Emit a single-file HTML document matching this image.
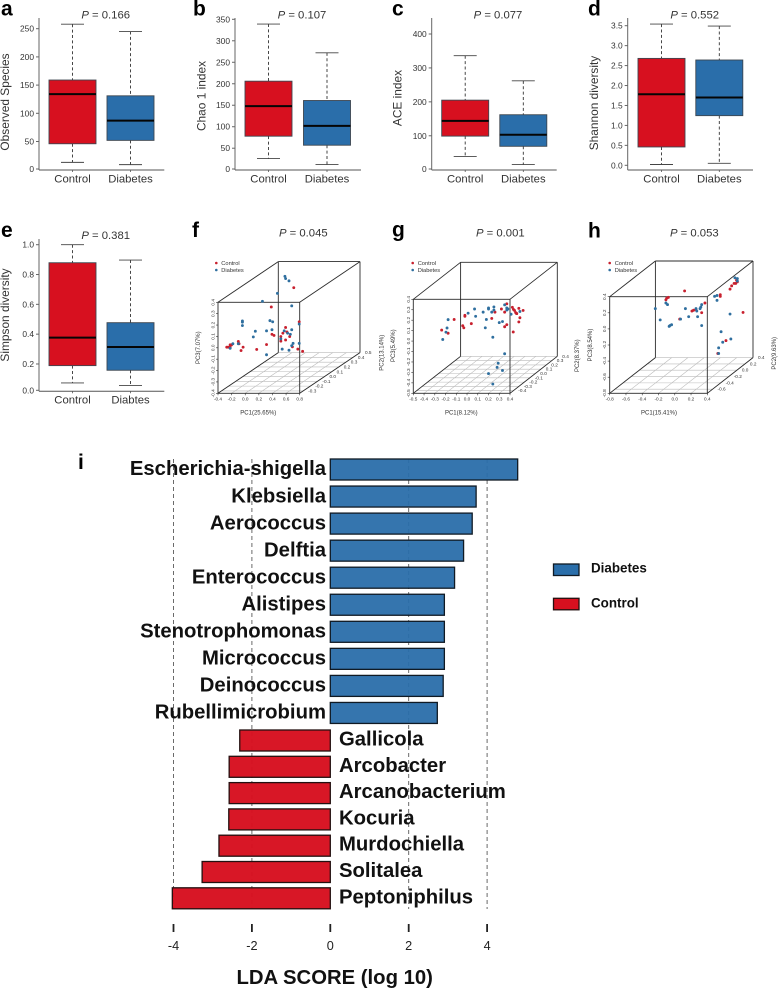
<!DOCTYPE html>
<html lang="en">
<head>
<meta charset="utf-8">
<title>Diversity and LDA figure</title>
<style>
html,body{margin:0;padding:0;background:#fff;}
svg{display:block;font-family:"Liberation Sans",sans-serif;filter:blur(0.3px);}
</style>
</head>
<body>
<svg id="figure" xmlns="http://www.w3.org/2000/svg" width="778" height="989" viewBox="0 0 778 989"></svg>
<script>
// ---------- box plot data: [whisker low, Q1, median, Q3, whisker high] ----------
const groupNames = ['Control', 'Diabetes'];
const groupNamesE = ['Control', 'Diabtes'];
const speciesControl = [13, 46, 134, 159, 258];
const speciesDiabetes = [9, 52, 87, 131, 245];
const speciesTicks = [0, 50, 100, 150, 200, 250];
const chaoControl = [26, 78, 148, 206, 339];
const chaoDiabetes = [12, 57, 102, 161, 272];
const chaoTicks = [0, 50, 100, 150, 200, 250, 300, 350];
const aceControl = [39, 99, 144, 205, 336];
const aceDiabetes = [15, 69, 103, 162, 262];
const aceTicks = [0, 100, 200, 300, 400];
const shannonControl = [0.02, 0.46, 1.78, 2.68, 3.54];
const shannonDiabetes = [0.05, 1.245, 1.70, 2.64, 3.49];
const shannonTicks = ['0.0', '0.5', '1.0', '1.5', '2.0', '2.5', '3.0', '3.5'];
const simpsonControl = [0.073, 0.189, 0.377, 0.879, 1.0];
const simpsonDiabetes = [0.055, 0.158, 0.314, 0.477, 0.897];
const simpsonTicks = ['0.0', '0.2', '0.4', '0.6', '0.8', '1.0'];

// ---------- PCoA data ----------
const fControlPc1 = [.27,-.06,.35,.15,.17,.11,.08,.08,.15,.21,-.05,-.02,-.13,.33,.40,.25,.08,-.12,-.15,-.19,-.18,-.29,-.31,-.34,-.36,-.31];
const fControlPc2 = [.075,.075,.075,.075,.075,.075,.075,.075,.075,.075,.075,.075,.075,.075,.075,.075,-.265,-.265,-.265,-.265,-.265,-.265,-.265,-.265,-.265,-.265];
const fControlPc3 = [.35,.18,.05,0,-.04,-.05,-.08,-.12,-.11,-.08,-.06,-.07,-.15,-.19,-.21,-.17,-.05,-.03,-.06,.02,0,-.01,-.01,-.03,-.03,-.03];
const fDiabetesPc1 = [.14,.15,.2,.03,-.19,.24,-.08,-.04,.35,-.13,-.05,.24,.13,.22,.18,.08,.35,.26,.24,.2,.1,-.13,-.13,-.13,-.13,.06,.03,-.19,-.27,-.31];
const fDiabetesPc2 = [.075,.075,.075,.075,.075,.075,.075,.075,.075,.075,.075,.075,.075,.075,.075,.075,.075,.075,.075,.075,.075,.075,-.265,-.265,-.265,-.265,-.265,-.265,-.265,-.265];
const fDiabetesPc3 = [.45,.43,.41,.30,.23,.19,.06,.05,.03,-.03,-.02,-.02,-.03,-.06,-.05,-.10,-.14,-.14,-.16,-.2,-.19,-.24,.2,.19,.16,.11,.06,0,0,-.04];

const gControlPc1 = [-.28,-.22,-.34,-.24,-.24,-.26,-.25,-.18,.01,.04,.10,.15,.13,.15,.13,.21,.07,.08,.09,.11,.10,.13,.17,.14,.13,.11];
const gControlPc2 = [-.374,-.374,-.03,-.03,-.03,-.03,-.03,-.03,-.03,-.03,-.03,-.03,-.03,-.03,-.03,-.03,.228,.228,.228,.228,.228,.228,.228,.228,.228,.228];
const gControlPc3 = [.07,.04,.03,.06,.07,-.03,-.05,-.01,.04,.10,.13,.18,.10,-.02,-.04,-.09,.04,.02,.01,-.02,-.01,.03,.01,-.06,-.10,-.02];
const gDiabetesPc1 = [-.27,-.24,-.23,-.22,-.21,-.15,-.14,-.07,-.02,-.02,.01,.03,.03,-.04,-.05,.08,.11,.02,.13,.15,.15,.16,.19,.24,.18,.17,.22,.09,.13,.14];
const gDiabetesPc2 = [-.374,-.374,-.374,-.374,-.03,-.03,-.03,-.03,-.03,-.03,-.03,-.03,-.03,-.03,-.03,-.03,-.03,-.03,-.03,-.03,-.03,-.03,-.03,-.245,-.245,-.245,-.245,-.245,-.245,.228];
const gDiabetesPc3 = [-.02,.05,.09,.17,.09,.13,.06,.10,.14,.13,.10,.15,.12,.03,-.05,0,.01,-.14,.17,.12,.14,.13,.08,-.21,-.30,-.34,-.37,-.40,-.5,0];

const hControlPc1 = [-.16,-.36,-.38,-.39,.09,-.22,-.07,-.05,-.02,.05,.31,.30,.32,.28,.25,.23,.11,.11,.39,.18,.08];
const hControlPc2 = [-.165,-.165,-.165,-.165,-.165,-.165,-.165,-.165,-.165,-.165,.174,.174,.174,.174,.174,.174,.174,.174,.174,.174,.174];
const hControlPc3 = [.25,.17,.16,.14,.10,-.10,0,.01,.02,-.02,.25,.21,.23,.21,.18,.14,.07,.05,-.15,-.50,-.66];
const hDiabetesPc1 = [-.52,-.46,-.35,-.34,-.32,-.39,-.37,-.21,-.15,-.11,0,.05,-.02,-.01,.04,.05,.03,.29,.32,.32,.04,.07,.07,.23,.12,.24,.14,.09,.09];
const hDiabetesPc2 = [-.165,-.165,-.165,-.165,-.165,-.165,-.165,-.165,-.165,-.165,-.165,-.165,-.165,-.165,-.165,-.165,-.165,.174,.174,.174,.174,.174,.174,.174,.174,.174,.174,.174,.174];
const hDiabetesPc3 = [.03,-.11,-.19,-.18,-.17,.10,.08,-.10,.03,-.07,-.07,-.18,.03,0,.05,.08,.03,.28,.27,.24,.05,.06,0,-.17,-.39,-.48,-.52,-.59,-.66];

const fTicksX = ['-0.4','-0.2','0.0','0.2','0.4','0.6','0.8'];
const fTicksY = ['-0.4','-0.3','-0.2','-0.1','0.0','0.1','0.2','0.3','0.4'];
const fTicksZ = ['-0.3','-0.2','-0.1','0.0','0.1','0.2','0.3','0.4','0.5'];
const gTicksX = ['-0.5','-0.4','-0.3','-0.2','-0.1','0.0','0.1','0.2','0.3','0.4'];
const gTicksY = ['-0.5','-0.4','-0.3','-0.2','-0.1','0.0','0.1','0.2','0.3','0.4'];
const gTicksZ = ['-0.4','-0.3','-0.2','-0.1','0.0','0.1','0.2','0.3','0.4'];
const hTicksX = ['-0.8','-0.6','-0.4','-0.2','0.0','0.2','0.4'];
const hTicksY = ['-0.8','-0.6','-0.4','-0.2','0.0','0.2','0.4'];
const hTicksZ = ['-0.6','-0.4','-0.2','0.0','0.2','0.4'];

// ---------- LDA data ----------
const diabetesTaxa = ['Escherichia-shigella','Klebsiella','Aerococcus','Delftia','Enterococcus','Alistipes','Stenotrophomonas','Micrococcus','Deinococcus','Rubellimicrobium'];
const diabetesLda = [4.78,3.72,3.62,3.40,3.17,2.91,2.91,2.91,2.88,2.73];
const controlTaxa = ['Gallicola','Arcobacter','Arcanobacterium','Kocuria','Murdochiella','Solitalea','Peptoniphilus'];
const controlLda = [-2.31,-2.58,-2.58,-2.59,-2.84,-3.27,-4.03];
const ldaTicks = [-4,-2,0,2,4];
const ldaGrid = [-4,-2,2,4];

// ---------- helpers ----------
const svg = document.getElementById('figure');
const NS = 'http://www.w3.org/2000/svg';
const RED = '#d7101f';
const BLUE = '#2a6eaa';
const INK = '#333';

function el(tag, attrs, parent) {
  const n = document.createElementNS(NS, tag);
  for (const k in attrs) n.setAttribute(k, attrs[k]);
  (parent || svg).appendChild(n);
  return n;
}
function line(x1, y1, x2, y2, stroke, w, dash, parent) {
  const a = {x1: x1, y1: y1, x2: x2, y2: y2, stroke: stroke, 'stroke-width': w};
  if (dash) a['stroke-dasharray'] = dash;
  return el('line', a, parent);
}
function text(str, x, y, size, opts, parent) {
  const a = Object.assign({x: x, y: y, 'font-size': size, fill: INK}, opts || {});
  const t = el('text', a, parent);
  t.textContent = str;
  return t;
}
function panelLetter(str, x, y) {
  const t = text(str, x, y, 21, {'font-weight': 'bold', fill: '#000'});
  
  
}
function pTitle(value, cx, y) {
  const t = text('', cx, y, 11.3, {'text-anchor': 'middle', fill: INK});
  const p = el('tspan', {'font-style': 'italic'}, t);
  p.textContent = 'P';
  const v = el('tspan', {}, t);
  v.textContent = ' = ' + value;
  
  
}

// ---------- box plots ----------
function boxPanel(c) {
  const g = el('g', {});
  
  
  const yScale = v => c.zeroY - (v / c.topVal) * (c.zeroY - c.topY);
  const ax = line(c.axisX, c.axisTop, c.axisX, c.axisBottom, '#666', 1, null, g);
  
  
  const xx = line(c.axisX, c.axisBottom, c.axisEnd, c.axisBottom, '#555', 1, null, g);
  
  
  c.ticks.forEach(tv => {
    const y = yScale(+tv);
    const ty = Math.min(y, c.axisBottom - 1);
    line(c.axisX - 3, ty, c.axisX, ty, '#666', 1, null, g);
    const lab = text(String(tv), c.axisX - 5, ty + 3, 8.4, {'text-anchor': 'end'}, g);
    
    
  });
  [c.first, c.second].forEach((s, i) => {
    const cx = c.centers[i];
    const col = i === 0 ? RED : BLUE;
    const b = el('g', {}, g);
    
    
    line(cx, yScale(s[4]), cx, yScale(s[3]), '#333', 0.9, '3 2.4', b);
    line(cx, yScale(s[1]), cx, yScale(s[0]), '#333', 0.9, '3 2.4', b);
    line(cx - 11.5, yScale(s[4]), cx + 11.5, yScale(s[4]), '#444', 0.9, null, b);
    line(cx - 11.5, yScale(s[0]), cx + 11.5, yScale(s[0]), '#444', 0.9, null, b);
    el('rect', {x: cx - 23.5, y: yScale(s[3]), width: 47, height: yScale(s[1]) - yScale(s[3]), fill: col, stroke: '#3d4650', 'stroke-width': 0.9}, b);
    line(cx - 23.5, yScale(s[2]), cx + 23.5, yScale(s[2]), '#050505', 2, null, b);
    line(cx, c.axisBottom, cx, c.axisBottom + 2, '#555', 0.8, null, b);
    const lab = text(c.names[i], cx, c.labelY, 11.3, {'text-anchor': 'middle'}, g);
    
    
  });
  const yl = text(c.yTitle, 0, 0, 11.9, {'text-anchor': 'middle', transform: 'translate(' + c.yTitleX + ',' + c.yTitleY + ') rotate(-90)'}, g);
  
  
}

boxPanel({id: 'observed-species', first: speciesControl, second: speciesDiabetes, ticks: speciesTicks, names: groupNames, zeroY: 169.7, topVal: 250, topY: 28.7, axisX: 39, axisTop: 18, axisBottom: 170, axisEnd: 164.3, centers: [72.5, 130.5], labelY: 182.7, yTitle: 'Observed Species', yTitleX: 9, yTitleY: 102});
boxPanel({id: 'chao1', first: chaoControl, second: chaoDiabetes, ticks: chaoTicks, names: groupNames, zeroY: 169.7, topVal: 350, topY: 19.3, axisX: 235, axisTop: 18, axisBottom: 170, axisEnd: 361, centers: [268.5, 327], labelY: 182.7, yTitle: 'Chao 1 index', yTitleX: 205.5, yTitleY: 96});
boxPanel({id: 'ace', first: aceControl, second: aceDiabetes, ticks: aceTicks, names: groupNames, zeroY: 169.7, topVal: 400, topY: 34, axisX: 431.7, axisTop: 18, axisBottom: 170, axisEnd: 556.7, centers: [465.2, 523.3], labelY: 182.7, yTitle: 'ACE index', yTitleX: 401.5, yTitleY: 98});
boxPanel({id: 'shannon', first: shannonControl, second: shannonDiabetes, ticks: shannonTicks, names: groupNames, zeroY: 165.3, topVal: 3.5, topY: 25.7, axisX: 627.7, axisTop: 18, axisBottom: 170, axisEnd: 753, centers: [661.5, 719.3], labelY: 182.7, yTitle: 'Shannon diversity', yTitleX: 598, yTitleY: 103});
boxPanel({id: 'simpson', first: simpsonControl, second: simpsonDiabetes, ticks: simpsonTicks, names: groupNamesE, zeroY: 393.8, topVal: 1, topY: 244.7, axisX: 39, axisTop: 239, axisBottom: 391.3, axisEnd: 164.3, centers: [72.5, 130.5], labelY: 403.3, yTitle: 'Simpson diversity', yTitleX: 9, yTitleY: 315});

pTitle('0.166', 105.7, 18.3);
pTitle('0.107', 302, 18.3);
pTitle('0.077', 498, 18.3);
pTitle('0.552', 694.7, 18.3);
pTitle('0.381', 105.7, 239);
pTitle('0.045', 303.3, 236.7);
pTitle('0.001', 500.3, 236.7);
pTitle('0.053', 694.3, 236.7);

panelLetter('a', 1, 15.7);
panelLetter('b', 193, 15.7);
panelLetter('c', 392, 15.7);
panelLetter('d', 588, 15.7);
panelLetter('e', 1, 237);
panelLetter('f', 192, 237);
panelLetter('g', 392, 236.7);
panelLetter('h', 588, 237.7);
panelLetter('i', 78, 469);

// ---------- 3D scatter panels ----------
function scatterPanel(c) {
  const g = el('g', {});
  
  
  const X = v => c.x0 + (v - c.xMin) / (c.xMax - c.xMin) * (c.x1 - c.x0);
  const Y = v => c.bot - (v - c.yMin) / (c.yMax - c.yMin) * (c.bot - c.top);
  const D = v => (v - c.zMin) / (c.zMax - c.zMin);
  const project = (a, b, h) => [X(a) + D(b) * c.dx, Y(h) + D(b) * c.dy];

  // floor grid
  c.ticksX.forEach(t => {
    const x = X(+t);
    line(x, c.bot, x + c.dx, c.bot + c.dy, '#bbb', 0.6, null, g);
    line(x, c.bot, x, c.bot + 2, '#333', 0.6, null, g);
    const lab = text(t, x, c.bot + 7, 4.7, {'text-anchor': 'middle'}, g);
    
    
  });
  c.ticksZ.forEach(t => {
    const d = D(+t);
    line(c.x0 + d * c.dx, c.bot + d * c.dy, c.x1 + d * c.dx, c.bot + d * c.dy, '#bbb', 0.6, null, g);
    const lab = text(t, c.x1 + d * c.dx + 5, c.bot + d * c.dy + 1.5, 4.7, {}, g);
    
    
  });
  c.ticksY.forEach(t => {
    const y = Y(+t);
    line(c.x0 - 2, y, c.x0, y, '#333', 0.6, null, g);
    const lab = text(t, 0, 0, 4.7, {'text-anchor': 'middle', transform: 'translate(' + (c.x0 - 3.5) + ',' + y + ') rotate(-90)'}, g);
    
    
  });

  // cube edges
  const cube = el('g', {}, g);
  
  
  const E = '#2b2b2b';
  line(c.x0 + c.dx, c.top + c.dy, c.x0 + c.dx, c.bot + c.dy, E, 0.9, null, cube);
  line(c.x0 + c.dx, c.top + c.dy, c.x1 + c.dx, c.top + c.dy, E, 0.9, null, cube);
  line(c.x1 + c.dx, c.top + c.dy, c.x1 + c.dx, c.bot + c.dy, E, 0.9, null, cube);
  line(c.x0, c.top, c.x0 + c.dx, c.top + c.dy, E, 0.9, null, cube);
  line(c.x1, c.top, c.x1 + c.dx, c.top + c.dy, E, 0.9, null, cube);
  line(c.x0, c.bot, c.x0 + c.dx, c.bot + c.dy, E, 0.9, null, cube);
  line(c.x1, c.bot, c.x1 + c.dx, c.bot + c.dy, E, 0.9, null, cube);
  el('rect', {x: c.x0, y: c.top, width: c.x1 - c.x0, height: c.bot - c.top, fill: 'none', stroke: E, 'stroke-width': 0.9}, cube);

  // points
  c.cPc1.forEach((v, i) => {
    const p = project(v, c.cPc2[i], c.cPc3[i]);
    const dot = el('circle', {cx: p[0], cy: p[1], r: 1.45, fill: '#c8202e'}, g);
    
    
  });
  c.dPc1.forEach((v, i) => {
    const p = project(v, c.dPc2[i], c.dPc3[i]);
    const dot = el('circle', {cx: p[0], cy: p[1], r: 1.45, fill: '#2f6f9f'}, g);
    
    
  });

  // legend
  const leg = el('g', {}, g);
  
  
  el('circle', {cx: c.legX, cy: 263, r: 1.3, fill: '#c8202e'}, leg);
  el('circle', {cx: c.legX, cy: 270, r: 1.3, fill: '#2f6f9f'}, leg);
  text('Control', c.legX + 5, 265, 5.7, {}, leg);
  text('Diabetes', c.legX + 5, 272, 5.7, {}, leg);

  const t1 = text(c.label1, c.l1[0], c.l1[1], 6, {'text-anchor': 'middle'}, g);
  
  
  const t2 = text(c.label3, 0, 0, 6, {'text-anchor': 'middle', transform: 'translate(' + c.l3[0] + ',' + c.l3[1] + ') rotate(-90)'}, g);
  
  
  const t3 = text(c.label2, 0, 0, 6, {'text-anchor': 'middle', transform: 'translate(' + c.l2[0] + ',' + c.l2[1] + ') rotate(-90)'}, g);
  
  
}

scatterPanel({id: 'f', x0: 218, x1: 299.7, top: 302.3, bot: 393.3, dx: 60.3, dy: -40.7, xMin: -0.4, xMax: 0.8, yMin: -0.4, yMax: 0.4, zMin: -0.35, zMax: 0.5, ticksX: fTicksX, ticksY: fTicksY, ticksZ: fTicksZ, cPc1: fControlPc1, cPc2: fControlPc2, cPc3: fControlPc3, dPc1: fDiabetesPc1, dPc2: fDiabetesPc2, dPc3: fDiabetesPc3, legX: 216.3, label1: 'PC1(25.65%)', label2: 'PC2(13.14%)', label3: 'PC3(7.07%)', l1: [258.3, 414.5], l2: [383.5, 352.7], l3: [200, 347.7]});
scatterPanel({id: 'g', x0: 413.3, x1: 510, top: 299.3, bot: 393.3, dx: 47.3, dy: -37, xMin: -0.5, xMax: 0.4, yMin: -0.5, yMax: 0.4, zMin: -0.46, zMax: 0.4, ticksX: gTicksX, ticksY: gTicksY, ticksZ: gTicksZ, cPc1: gControlPc1, cPc2: gControlPc2, cPc3: gControlPc3, dPc1: gDiabetesPc1, dPc2: gDiabetesPc2, dPc3: gDiabetesPc3, legX: 412.7, label1: 'PC1(8.12%)', label2: 'PC2(8.37%)', label3: 'PC3(5.49%)', l1: [461.3, 414.5], l2: [579, 355.7], l3: [395, 345.7]});
scatterPanel({id: 'h', x0: 609.7, x1: 707.3, top: 296.7, bot: 393.3, dx: 45.7, dy: -35.7, xMin: -0.8, xMax: 0.4, yMin: -0.8, yMax: 0.4, zMin: -0.73, zMax: 0.4, ticksX: hTicksX, ticksY: hTicksY, ticksZ: hTicksZ, cPc1: hControlPc1, cPc2: hControlPc2, cPc3: hControlPc3, dPc1: hDiabetesPc1, dPc2: hDiabetesPc2, dPc3: hDiabetesPc3, legX: 609.7, label1: 'PC1(15.41%)', label2: 'PC2(9.63%)', label3: 'PC3(8.54%)', l1: [659, 414.5], l2: [776, 353.3], l3: [592, 345]});

// ---------- LDA chart ----------
const ldaX = v => 330.3 + v * 39.2;
const BAR_H = 21;
const blueTop = i => 459 + i * 27.05;
const redTop = i => 730 + i * 26.3;

ldaGrid.forEach(v => {
  const gl = line(ldaX(v), 459, ldaX(v), 909, '#5a5a5a', 0.9, '4 3');
  
  
});
diabetesLda.forEach((v, i) => {
  const r = el('rect', {x: ldaX(0), y: blueTop(i), width: ldaX(v) - ldaX(0), height: BAR_H, fill: BLUE, 'fill-opacity': 0.95, stroke: '#101a24', 'stroke-width': 1.3});
  
  
  const t = text(diabetesTaxa[i], 326, blueTop(i) + 16.2, 20.3, {'text-anchor': 'end', 'font-weight': 'bold', fill: '#111'});
  
  
});
controlLda.forEach((v, i) => {
  const r = el('rect', {x: ldaX(v), y: redTop(i), width: ldaX(0) - ldaX(v), height: BAR_H, fill: RED, 'fill-opacity': 0.97, stroke: '#241010', 'stroke-width': 1.3});
  
  
  const t = text(controlTaxa[i], 339, redTop(i) + 15.5, 20.3, {'font-weight': 'bold', fill: '#111'});
  
  
});
ldaTicks.forEach(v => {
  const tk = line(ldaX(v), 924, ldaX(v), 932, '#222', 1.8);
  
  
  const t = text(String(v), ldaX(v), 950, 12.7, {'text-anchor': 'middle', fill: '#222'});
  
  
});
const ldaTitle = text('LDA SCORE (log 10)', 334.7, 984, 20.3, {'text-anchor': 'middle', 'font-weight': 'bold', fill: '#111'});



const legendBlue = el('rect', {x: 553.5, y: 564, width: 25.5, height: 11.5, fill: BLUE, stroke: '#101a24', 'stroke-width': 1.3});


const legendRed = el('rect', {x: 553.5, y: 598.3, width: 25.5, height: 11.5, fill: RED, stroke: '#241010', 'stroke-width': 1.3});


const legendT1 = text('Diabetes', 591, 572.7, 13.4, {'font-weight': 'bold', fill: '#111'});


const legendT2 = text('Control', 591, 607.3, 13.4, {'font-weight': 'bold', fill: '#111'});


</script>
</body>
</html>
